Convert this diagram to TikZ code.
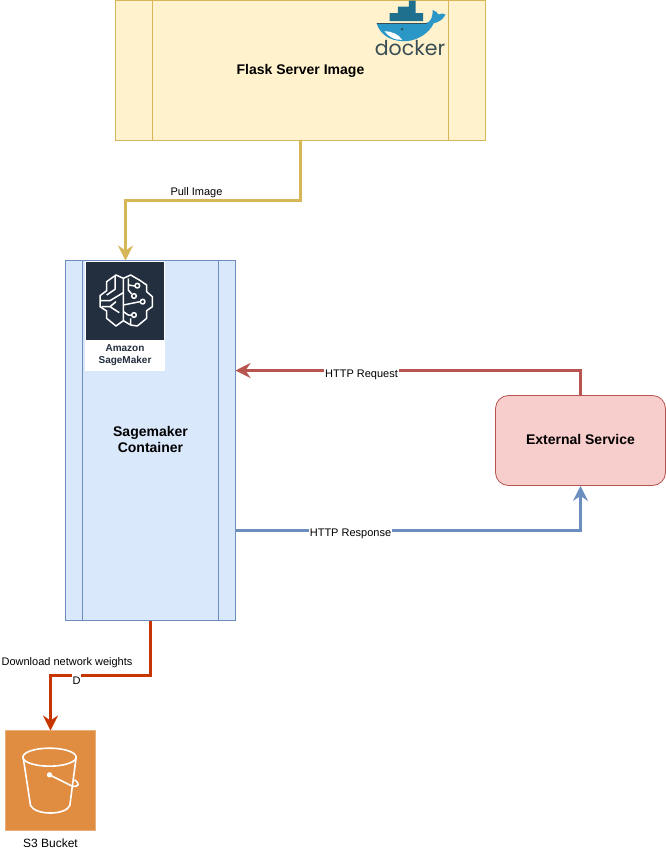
\documentclass[tikz,border=0pt]{standalone}
\usepackage{fontspec}
\setmainfont{Liberation Sans}
\newfontfamily\dockerfont{Poppins}
\usetikzlibrary{arrows.meta}
\definecolor{flaskfill}{HTML}{FFF2CC}
\definecolor{flaskline}{HTML}{D6B656}
\definecolor{sagefill}{HTML}{DAE8FC}
\definecolor{sageline}{HTML}{6C8EBF}
\definecolor{extfill}{HTML}{F8CECC}
\definecolor{extline}{HTML}{B85450}
\definecolor{weightline}{HTML}{C73500}
\definecolor{bucketfill}{HTML}{E08D42}
\definecolor{sagenavy}{HTML}{232F3E}
\definecolor{whaleblue}{HTML}{2A97C6}
\definecolor{whaledark}{HTML}{1F6F8F}
\definecolor{dockertext}{HTML}{394D54}
\begin{document}
\begin{tikzpicture}[x=1pt,y=-1pt]
\tikzstyle{every node}=[font=\fontsize{11}{13}\selectfont, inner sep=1pt]
\tikzstyle{procbox}=[draw, line width=0.8pt, shape=rectangle, align=center, font=\fontsize{14}{16}\selectfont\bfseries]
\tikzstyle{flow}=[line width=2.7pt, -{Stealth[length=15pt,width=15pt,inset=5pt]}]
\useasboundingbox (-0.5,-0.5) rectangle (665.5,851.5);
\node at (300,70) [procbox, fill=flaskfill, draw=flaskline, minimum width=370pt, minimum height=140pt] (flask) {Flask Server Image};
\node at (150,440) [procbox, fill=sagefill, draw=sageline, minimum width=170pt, minimum height=360pt] (sage) {};
\node at (150,438.5) [align=center, font=\fontsize{14}{16}\selectfont\bfseries] (sagelabel) {Sagemaker\\Container};
\node at (580,440) [procbox, fill=extfill, draw=extline, rounded corners=13pt, minimum width=170pt, minimum height=90pt, text depth=2pt] (ext) {External Service};
\node at (50,780) [fill=bucketfill, draw=bucketfill!70!white, line width=0.6pt, minimum width=90pt, minimum height=100pt] (bucket) {};
\node at (50,843) [font=\fontsize{12}{14}\selectfont] (bucketlabel) {S3 Bucket};
\draw[flaskline, line width=0.8pt]
([xshift=37pt]flask.north west) -- ([xshift=37pt]flask.south west)
([xshift=-38pt]flask.north east) -- ([xshift=-38pt]flask.south east);
\draw[sageline, line width=0.8pt]
([xshift=17pt]sage.north west) -- ([xshift=17pt]sage.south west)
([xshift=-18pt]sage.north east) -- ([xshift=-18pt]sage.south east);
\coordinate (pullend) at (125,260);
\coordinate (reqend) at (235,370);
\coordinate (respstart) at (235,530);
\coordinate (weightend) at (50,730);
\draw[flow, flaskline] (flask.south) -- (300,200) -- (125,200) -- (pullend);
\draw[flow, extline] (ext.north) -- (580,370) -- (reqend);
\draw[flow, sageline] (respstart) -- (580,530) -- (ext.south);
\draw[flow, weightline] (sage.south) -- (150,675) -- (50,675) -- (weightend);
\node at (196,192.5) (pulllabel) {Pull Image};
\node at (361,374) [fill=white] (reqlabel) {HTTP Request};
\node at (350,533) [fill=white] (resplabel) {HTTP Response};
\node at (66.5,662.5) (weightlabel) {Download network weights};
\node at (76,680.5) [fill=white, inner ysep=3.5pt, inner xsep=0.5pt] (dlabel) {D};
\node at (124.5,315.5) [fill=white, minimum width=80pt, minimum height=110pt] (sagecard) {};
\node at (124.5,300.5) [fill=sagenavy, minimum width=78pt, minimum height=78pt] (sageicon) {};
\node at (124.5,355) [align=center, text=sagenavy, font=\fontsize{10}{12}\selectfont\bfseries] (sagetext) {Amazon\\SageMaker};
\begin{scope}[shift={(59.5,249.5)}, xscale=1/3, yscale=1/3, white, line width=1.5pt, line join=round]
\draw (190,85) -- (168,75) -- (140,95) -- (140,122) -- (120,137) -- (120,170) -- (140,183) -- (140,205) -- (168,228) -- (190,212) -- (190,85);
\draw (190,85) -- (212,75) -- (238,90) -- (260,105) -- (260,125) -- (277,140) -- (277,170) -- (260,182) -- (260,205) -- (232,228) -- (212,225) -- (190,212);
\draw (165,78) -- (165,118) -- (140,135) (122,152) -- (150,152) -- (190,128);
\draw (125,170) -- (150,170) -- (178,188) (150,170) -- (168,155);
\draw (205,85) -- (205,120) -- (215,132) (205,105) -- (225,108) (190,165) -- (240,155);
\draw (190,185) -- (205,195) -- (214,195) (212,205) -- (212,225);
\foreach \cx/\cy in {232/107, 222/138, 248/155, 222/195}
\draw[fill=sagenavy] (\cx,\cy) circle (7);
\end{scope}
\begin{scope}[shift={(0,640)}, xscale=1/3, yscale=1/3, white, line width=1.6pt]
\draw (147,350) ellipse (80 and 27);
\draw (68,350) -- (90,495) .. controls (105,525) and (195,525) .. (208,495) -- (227,350);
\fill (147,403) circle (8);
\draw (147,403) -- (215,437) .. controls (235,440) and (240,430) .. (222,418);
\end{scope}
\begin{scope}[shift={(360,0)}, xscale=1/3, yscale=1/3]
\fill[whaledark] (145,0) rectangle (165,58) (112,18) rectangle (165,38) (87,38) rectangle (188,62);
\fill[whaleblue] (48,68) -- (195,68) .. controls (210,66) and (218,50) .. (216,28) .. controls (225,32) and (232,36) .. (234,42) .. controls (240,38) and (250,38) .. (255,42) .. controls (248,58) and (232,66) .. (220,68) .. controls (205,100) and (165,125) .. (125,122) .. controls (85,120) and (58,100) .. (48,68) -- cycle;
\fill[white] (72,92) .. controls (90,92) and (115,100) .. (125,118) .. controls (105,120) and (85,110) .. (72,92) -- cycle;
\draw[dockertext, line width=0.7pt] (48,68) -- (200,68);
\fill[dockertext] (125,86) circle (4);
\end{scope}
\node at (409.5,47.5) [text=dockertext, font=\dockerfont\fontsize{20.5}{24}\selectfont] (dockerlabel) {docker};
\end{tikzpicture}
\end{document}
